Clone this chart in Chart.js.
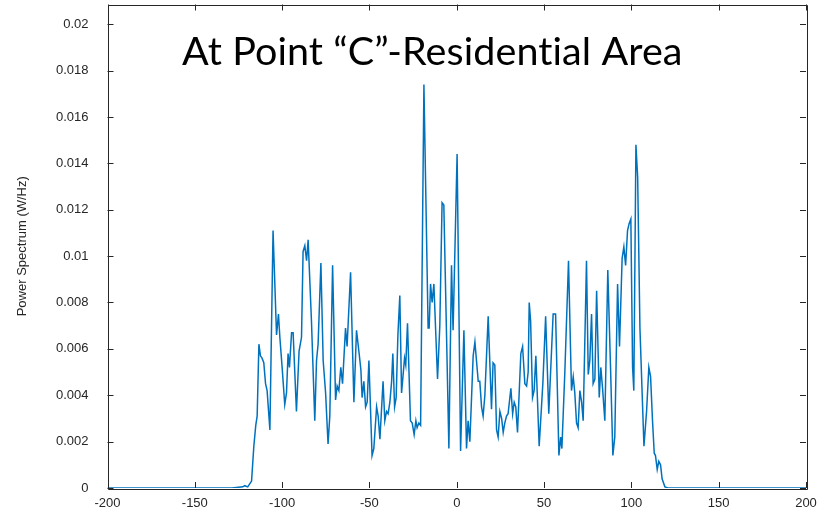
<!DOCTYPE html>
<html lang="en">
<head>
<meta charset="UTF-8">
<title>Power Spectrum - Point C</title>
<script src="https://cdn.jsdelivr.net/npm/chart.js"></script>
<style>
    html, body { margin: 0; padding: 0; background: #fff; }
    #wrap { width: 827px; height: 519px; position: relative; }
</style>
</head>
<body>
<div id="wrap"><canvas id="spectrum" width="827" height="519"></canvas></div>
<script>
// frequency (Hz) and power spectrum (W/Hz)
const freqHz = [-200, -128.8, -122.5, -121.4, -119.7, -117.5, -116.2, -115.1, -114.3, -113.3,
    -112.4, -111.5, -110.5, -109.5, -108.6, -107.0, -105.2, -103.2, -102.1, -101.3,
    -100.0, -98.5, -97.5, -96.6, -95.8, -94.6, -93.7, -91.8, -90.3, -88.9,
    -88.0, -87.0, -86.0, -85.1, -83.2, -81.3, -80.3, -79.4, -77.8, -76.5,
    -75.1, -73.7, -72.7, -71.1, -69.4, -68.5, -67.5, -66.4, -65.4, -63.7,
    -62.8, -60.8, -58.9, -57.4, -55.9, -54.9, -54.2, -53.2, -52.2, -51.3,
    -50.3, -48.5, -47.5, -45.9, -45.0, -44.0, -42.2, -41.2, -40.2, -39.3,
    -38.3, -37.3, -36.6, -35.6, -34.7, -33.7, -32.6, -31.6, -30.7, -29.9,
    -29.2, -28.2, -26.5, -25.5, -24.4, -23.4, -22.7, -21.7, -20.7, -18.8,
    -16.4, -15.8, -15.0, -14.1, -13.1, -11.0, -9.7, -8.4, -7.4, -4.5,
    -3.0, -2.1, 0.2, 2.2, 4.1, 5.6, 6.5, 7.5, 9.4, 10.4,
    12.3, 13.2, 14.2, 15.1, 16.1, 18.0, 19.9, 20.8, 21.8, 22.8,
    23.7, 24.7, 25.7, 26.6, 27.5, 28.5, 29.4, 31.0, 32.0, 32.9,
    33.8, 34.8, 36.7, 37.7, 39.0, 40.0, 40.9, 41.5, 42.3, 43.4,
    44.3, 45.3, 47.2, 49.3, 50.9, 52.7, 55.2, 56.6, 58.5, 59.5,
    60.2, 61.9, 64.0, 65.7, 66.7, 67.6, 68.6, 69.5, 70.5, 71.5,
    72.4, 74.3, 75.3, 76.2, 77.2, 78.1, 79.1, 80.1, 81.6, 82.5,
    83.5, 84.8, 86.5, 88.1, 89.4, 90.5, 92.1, 93.2, 94.7, 95.7,
    96.7, 97.8, 98.7, 99.7, 100.7, 101.4, 102.6, 103.6, 104.9, 107.2,
    108.7, 110.0, 111.0, 112.1, 113.1, 113.8, 114.8, 115.7, 116.7, 117.6,
    119.2, 120.9, 200];

const powerWHz = [0, 0, 0.00005, 0.0001, 0.00005, 0.0003, 0.0018, 0.0027, 0.0031, 0.0062,
    0.0057, 0.0056, 0.0054, 0.0045, 0.0042, 0.0025, 0.0111, 0.0066, 0.0075, 0.0065,
    0.0052, 0.0036, 0.0041, 0.0058, 0.0052, 0.0067, 0.0067, 0.0033, 0.0059, 0.0065,
    0.0102, 0.01045, 0.0098, 0.0107, 0.0072, 0.0029, 0.0055, 0.0062, 0.0097, 0.0055,
    0.0041, 0.0019, 0.0031, 0.0096, 0.0038, 0.0044, 0.0042, 0.0052, 0.0045, 0.0069,
    0.0061, 0.0093, 0.0037, 0.0068, 0.0058, 0.0051, 0.0039, 0.0046, 0.0035, 0.0037,
    0.0055, 0.0014, 0.0017, 0.0035, 0.0031, 0.0021, 0.0046, 0.0029, 0.0033, 0.0032,
    0.0037, 0.0046, 0.0058, 0.0035, 0.0039, 0.0066, 0.0083, 0.0041, 0.0049, 0.0056,
    0.0053, 0.0071, 0.0029, 0.0028, 0.0023, 0.0029, 0.0026, 0.0028, 0.0027, 0.0174,
    0.0069, 0.0069, 0.0088, 0.0080, 0.0088, 0.0047, 0.0070, 0.0123, 0.0122, 0.0017,
    0.0096, 0.0068, 0.0144, 0.0016, 0.0068, 0.0017, 0.0029, 0.0020, 0.0057, 0.0063,
    0.0046, 0.0046, 0.0035, 0.0031, 0.0040, 0.0074, 0.0034, 0.0054, 0.0053, 0.0025,
    0.0022, 0.0033, 0.0030, 0.0024, 0.0028, 0.0031, 0.0032, 0.0043, 0.0032, 0.0037,
    0.0035, 0.0024, 0.0058, 0.0061, 0.0045, 0.0044, 0.0050, 0.0080, 0.0072, 0.0039,
    0.0042, 0.0057, 0.0018, 0.0045, 0.0074, 0.0032, 0.0075, 0.0075, 0.0014, 0.0022,
    0.0017, 0.0050, 0.0098, 0.0042, 0.0048, 0.0041, 0.0028, 0.0026, 0.0042, 0.0037,
    0.0029, 0.0098, 0.0049, 0.0055, 0.0075, 0.0045, 0.0047, 0.0085, 0.0039, 0.0052,
    0.0043, 0.0029, 0.0094, 0.0051, 0.0014, 0.0022, 0.0088, 0.0061, 0.0099, 0.0104,
    0.0096, 0.0111, 0.0114, 0.0116, 0.0052, 0.0042, 0.0148, 0.0134, 0.0069, 0.0018,
    0.0033, 0.0052, 0.0048, 0.0029, 0.0015, 0.0014, 0.0008, 0.00115, 0.0010, 0.0004,
    0.00005, 0, 0];

const xTicks = [-200, -150, -100, -50, 0, 50, 100, 150, 200];
const yTicks = [0, 0.002, 0.004, 0.006, 0.008, 0.01, 0.012, 0.014, 0.016, 0.018, 0.02];
const yLabels = ['0', '0.002', '0.004', '0.006', '0.008', '0.01', '0.012', '0.014', '0.016', '0.018', '0.02'];

const axisColor = '#262626';

// box around the plot with inward tick marks on all four sides
const boxAxes = {
    id: 'boxAxes',
    afterDraw(chart) {
        const { ctx, chartArea: a, scales } = chart;
        const len = 6;
        ctx.save();
        ctx.strokeStyle = axisColor;
        ctx.lineWidth = 1;
        ctx.beginPath();
        ctx.rect(Math.round(a.left) + 0.5, Math.round(a.top) + 0.5,
            Math.round(a.right - a.left), Math.round(a.bottom - a.top));
        xTicks.forEach(v => {
            const px = Math.round(scales.x.getPixelForValue(v)) + 0.5;
            ctx.moveTo(px, a.bottom); ctx.lineTo(px, a.bottom - len);
            ctx.moveTo(px, a.top); ctx.lineTo(px, a.top + len);
        });
        yTicks.forEach(v => {
            const py = Math.round(scales.y.getPixelForValue(v)) + 0.5;
            ctx.moveTo(a.left, py); ctx.lineTo(a.left + len, py);
            ctx.moveTo(a.right, py); ctx.lineTo(a.right - len, py);
        });
        ctx.stroke();

        // heading inside the plot (small letter spacing keeps "ti" unligated)
        ctx.fillStyle = '#000';
        ctx.font = '400 39.5px Lato';
        ctx.letterSpacing = '0.1px';
        ctx.textBaseline = 'alphabetic';
        ctx.fillText('At Point \u201CC\u201D-Residential Area', 182, 65);
        ctx.restore();
    }
};

new Chart(document.getElementById('spectrum'), {
    type: 'line',
    data: {
        datasets: [{
            data: freqHz.map((f, i) => ({ x: f, y: powerWHz[i] })),
            borderColor: '#0072BD',
            borderWidth: 1.5,
            pointRadius: 0,
            tension: 0,
            fill: false
        }]
    },
    options: {
        responsive: false,
        animation: false,
        devicePixelRatio: 1,
        layout: { padding: { left: 0, right: 21, top: 4.5, bottom: 0 } },
        plugins: { legend: { display: false }, tooltip: { enabled: false } },
        scales: {
            x: {
                type: 'linear',
                min: -200,
                max: 200,
                afterBuildTicks: s => { s.ticks = xTicks.map(v => ({ value: v })); },
                afterFit: s => { s.height = 31; s.paddingLeft = 0; s.paddingRight = 0; },
                grid: { display: false, drawTicks: false },
                border: { display: false },
                ticks: {
                    color: axisColor,
                    padding: 8,
                    maxRotation: 0,
                    autoSkip: false,
                    font: { family: 'Liberation Sans, Arial', size: 13 }
                }
            },
            y: {
                min: 0,
                max: 0.02085,
                afterBuildTicks: s => { s.ticks = yTicks.map(v => ({ value: v })); },
                afterFit: s => { s.width = 107.5; s.paddingTop = 0; s.paddingBottom = 0; },
                grid: { display: false, drawTicks: false },
                border: { display: false },
                ticks: {
                    color: axisColor,
                    padding: 19,
                    autoSkip: false,
                    font: { family: 'Liberation Sans, Arial', size: 13 },
                    callback: v => yLabels[yTicks.findIndex(t => Math.abs(t - v) < 1e-9)]
                },
                title: {
                    display: true,
                    text: 'Power Spectrum (W/Hz)',
                    color: axisColor,
                    padding: { top: 15, bottom: 0 },
                    font: { family: 'Liberation Sans, Arial', size: 13 }
                }
            }
        }
    },
    plugins: [boxAxes]
});
</script>
</body>
</html>
